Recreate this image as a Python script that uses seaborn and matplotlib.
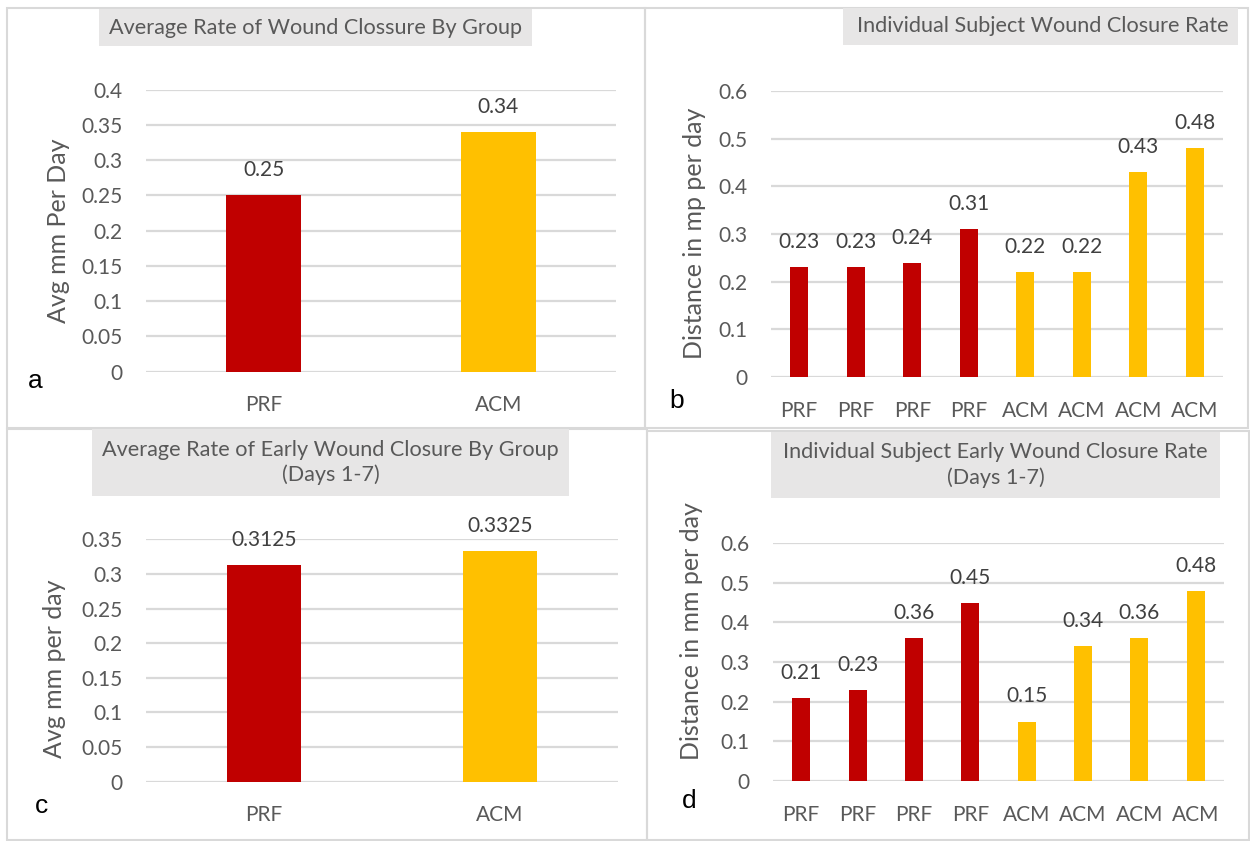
import numpy as np
import pandas as pd
import matplotlib
matplotlib.use("Agg")
import matplotlib.pyplot as plt
from matplotlib.patches import Rectangle
import seaborn as sns

# ---- data ----
group_names = ["PRF", "ACM"]
avg_overall = [0.25, 0.34]
avg_early = [0.3125, 0.3325]

subject_groups = ["PRF", "PRF", "PRF", "PRF", "ACM", "ACM", "ACM", "ACM"]
subject_overall = [0.23, 0.23, 0.24, 0.31, 0.22, 0.22, 0.43, 0.48]
subject_early = [0.21, 0.23, 0.36, 0.45, 0.15, 0.34, 0.36, 0.48]

titles = [
    "Average Rate of Wound Clossure By Group",
    "Individual Subject Wound Closure Rate",
    "Average Rate of Early Wound Closure By Group\n(Days 1-7)",
    "Individual Subject Early Wound Closure Rate\n(Days 1-7)",
]
ylabels = ["Avg mm Per Day", "Distance in mp per day",
           "Avg mm per day", "Distance in mm per day"]
panel_tags = ["a", "b", "c", "d"]

palette = {"PRF": "#c00000", "ACM": "#ffc000"}

# ---- style ----
sns.set_theme(style="white")
plt.rcParams["font.family"] = ["Lato", "DejaVu Sans"]

W, H = 1250, 841
fig = plt.figure(figsize=(W / 100, H / 100), dpi=100)
fig.patch.set_facecolor("white")


def fr(x0, y0, x1, y1):
    """pixel box (top-left origin) -> figure fraction rect"""
    return [x0 / W, 1 - y1 / H, (x1 - x0) / W, (y1 - y0) / H]


TICK_C = "#595959"
LABEL_C = "#404040"
GRID_C = "#d9d9d9"

# panel frames
for (x0, y0, x1, y1) in [(7, 8, 645, 428), (645, 8, 1248, 428),
                          (7, 429, 647, 840), (647, 431, 1249, 840)]:
    fig.patches.append(Rectangle((x0 / W, 1 - y1 / H), (x1 - x0) / W, (y1 - y0) / H,
                                 transform=fig.transFigure, fill=False,
                                 edgecolor=GRID_C, lw=1.5))

# axes areas
axes_boxes = [(146, 89.5, 616, 371.7), (771, 91, 1223, 377),
              (146, 539.3, 618, 781.7), (773, 543, 1224, 781)]
ylims = [0.4, 0.6, 0.35, 0.6]
ysteps = [0.05, 0.1, 0.05, 0.1]
# y-axis title centre (pixels)
ylabel_pos = [(58, 231), (694, 233), (55, 669), (692, 631)]

frames = [
    pd.DataFrame({"cat": group_names, "group": group_names, "val": avg_overall}),
    pd.DataFrame({"cat": [str(i) for i in range(len(subject_groups))],
                  "group": subject_groups, "val": subject_overall}),
    pd.DataFrame({"cat": group_names, "group": group_names, "val": avg_early}),
    pd.DataFrame({"cat": [str(i) for i in range(len(subject_groups))],
                  "group": subject_groups, "val": subject_early}),
]
widths = [0.315, 0.32, 0.31, 0.32]

for i, df in enumerate(frames):
    x0, y0, x1, y1 = axes_boxes[i]
    ax = fig.add_axes(fr(x0, y0, x1, y1))
    sns.barplot(data=df, x="cat", y="val", hue="group", palette=palette,
                dodge=False, width=widths[i], legend=False, ax=ax,
                saturation=1, edgecolor="none", zorder=3)
    ax.set_ylim(0, ylims[i])
    ax.set_xlim(-0.5, len(df) - 0.5)
    ticks = np.round(np.arange(0, ylims[i] + 1e-9, ysteps[i]), 3)
    ax.set_yticks(ticks)
    ax.set_yticklabels([f"{t:g}" for t in ticks])
    ax.set_xticks(range(len(df)))
    ax.set_xticklabels(df["group"])
    for s in ax.spines.values():
        s.set_visible(False)
    ax.grid(axis="y", color=GRID_C, lw=1.6, zorder=0)
    ax.set_axisbelow(True)
    ax.tick_params(axis="both", length=0, labelsize=15, colors=TICK_C)
    ax.tick_params(axis="x", pad=17)
    ax.tick_params(axis="y", pad=17)
    ax.set_xlabel("")
    ax.set_ylabel(ylabels[i], fontsize=18, color=TICK_C)
    lx, ly = ylabel_pos[i]
    ax.yaxis.set_label_coords((lx - x0) / (x1 - x0), (y1 - ly) / (y1 - y0))
    ax.yaxis.label.set_va("center")
    ax.set_facecolor("none")
    for xi, v in enumerate(df["val"]):
        ax.annotate(f"{v:g}", (xi, v), xytext=(0, 18), textcoords="offset points",
                    ha="center", va="center", fontsize=15, color=LABEL_C)

# title boxes
title_boxes = [(99, 9, 532, 46), (843, 8, 1238, 45),
               (92, 429, 569, 496), (771, 432, 1220, 498)]
for i, (x0, y0, x1, y1) in enumerate(title_boxes):
    fig.patches.append(Rectangle((x0 / W, 1 - y1 / H), (x1 - x0) / W, (y1 - y0) / H,
                                 transform=fig.transFigure, facecolor="#e7e6e6",
                                 edgecolor="none"))
    if i == 1:
        fig.text((x1 - 9) / W, 1 - (y0 + y1) / 2 / H, titles[i], ha="right",
                 va="center", fontsize=15.6, color=TICK_C)
    else:
        fig.text((x0 + x1) / 2 / W, 1 - (y0 + y1) / 2 / H, titles[i], ha="center",
                 va="center", fontsize=15.6, color=TICK_C, linespacing=1.3)

# panel letters
tag_pos = [(35, 381), (677, 401), (42, 806), (689, 801)]
for t, (x, y) in zip(panel_tags, tag_pos):
    fig.text(x / W, 1 - y / H, t, ha="center", va="center", fontsize=19,
             color="black", family="Liberation Sans")

fig.savefig("out.png", dpi=100, facecolor="white")
